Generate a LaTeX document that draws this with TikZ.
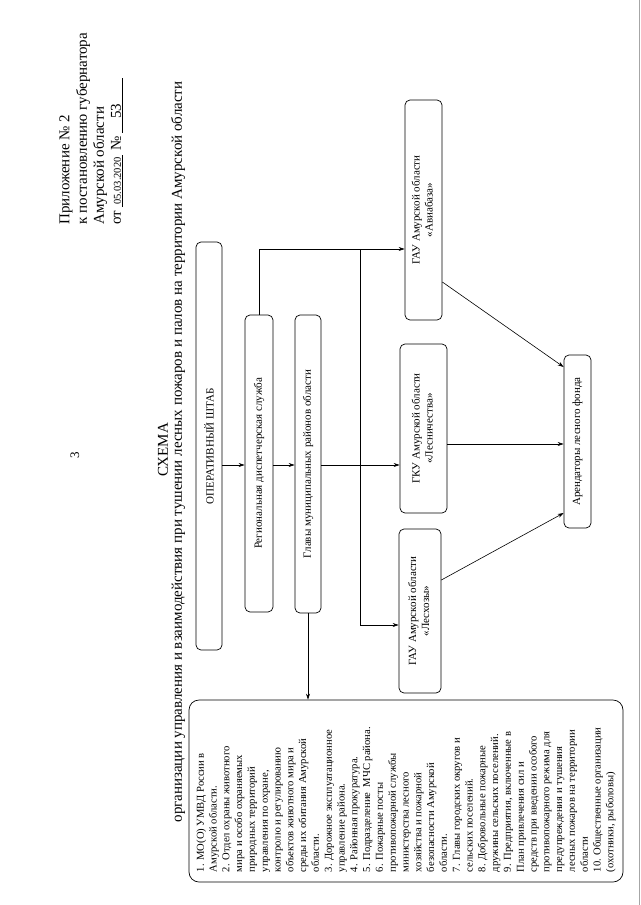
\documentclass[tikz,border=0pt]{standalone}
\usepackage{fontspec}
\setmainfont{Liberation Serif}
\usepackage{graphicx}
\usetikzlibrary{arrows.meta}
\begin{document}
\begin{tikzpicture}[x=1pt,y=-1pt,
  box/.style={draw, rounded corners=5pt, line width=0.7pt, inner sep=0pt},
  blbl/.style={font=\fontsize{11}{13}\selectfont},
  rtxt/.style={rotate=90, inner sep=0pt, anchor=west},
  arr/.style={-{Stealth[length=6pt,width=4pt]}, line width=0.6pt},
  ln/.style={line width=0.6pt}
]
\useasboundingbox[fill=white] (0,0) rectangle (640,905);
% scan edge
\draw[gray!70, line width=1pt] (639,0) -- (639,905);

% page number and header
\node[rotate=90, font=\fontsize{13}{15}\selectfont] (pnum) at (75,455) {3};
\node[rtxt, font=\fontsize{15}{17}\selectfont] (h1) at (66,225) {Приложение № 2};
\node[rtxt, font=\fontsize{15}{17}\selectfont] (h2) at (83,225) {к постановлению губернатора};
\node[rtxt, font=\fontsize{15}{17}\selectfont] (h3) at (100,225) {Амурской области};
\node[rtxt, font=\fontsize{15}{17}\selectfont] (h4) at (117,225) {от \underline{\fontsize{10.5}{12}\selectfont\ 05.03.2020\ }\ № \underline{\hspace{14pt}53\hspace{26pt}}};

% title
\node[rotate=90, font=\fontsize{15}{17}\selectfont] (t1) at (163,450) {СХЕМА};
\node[rotate=90, font=\fontsize{15}{17}\selectfont] (t2) at (178,452) {организации управления и взаимодействия при тушении лесных пожаров и палов на территории Амурской области};

% boxes
\node[box, blbl, minimum width=26, minimum height=408] (osh) at (209,446) {\rotatebox{90}{ОПЕРАТИВНЫЙ ШТАБ}};
\node[box, blbl, minimum width=28, minimum height=297] (rds) at (259,463.5) {\rotatebox{90}{Региональная диспетчерская служба}};
\node[box, blbl, minimum width=26, minimum height=298] (glav) at (308,464) {\rotatebox{90}{Главы муниципальных районов области}};
\node[box, blbl, minimum width=37, minimum height=220] (avia) at (423.5,210) {\rotatebox{90}{\begin{tabular}{@{}c@{}}ГАУ Амурской области\\«Авиабаза»\end{tabular}}};
\node[box, blbl, minimum width=47, minimum height=169] (lesn) at (423.5,428.5) {\rotatebox{90}{\begin{tabular}{@{}c@{}}ГКУ Амурской области\\«Лесничества»\end{tabular}}};
\node[box, blbl, minimum width=42, minimum height=164] (lesh) at (420,611) {\rotatebox{90}{\begin{tabular}{@{}c@{}}ГАУ Амурской области\\«Лесхозы»\end{tabular}}};
\node[box, blbl, minimum width=27, minimum height=173] (arend) at (577.5,441.5) {\rotatebox{90}{Арендаторы лесного фонда}};

\node[box, rounded corners=10pt, minimum width=434, minimum height=182] (big) at (406,791) {\rotatebox{90}{\begin{minipage}{162pt}\fontsize{10.6}{12.8}\selectfont
\begin{tabular}{@{}l@{}}
1. МО(О) УМВД России в\\
Амурской области.\\
2. Отдел охраны животного\\
мира и особо охраняемых\\
природных территорий\\
управления по охране,\\
контролю и регулированию\\
объектов животного мира и\\
среды их обитания Амурской\\
области.\\
3. Дорожное эксплуатационное\\
управление района.\\
4. Районная прокуратура.\\
5. Подразделение\ \ МЧС района.\\
6. Пожарные посты\\
противопожарной службы\\
министерства лесного\\
хозяйства и пожарной\\
безопасности Амурской\\
области.\\
7. Главы городских округов и\\
сельских поселений.\\
8. Добровольные пожарные\\
дружины сельских поселений.\\
9. Предприятия, включенные в\\
План привлечения сил и\\
средств при введении особого\\
противопожарного режима для\\
предупреждения и тушения\\
лесных пожаров на территории\\
области\\
10. Общественные организации\\
(охотники, рыболовы)
\end{tabular}\end{minipage}}};

% helper coordinates
\coordinate (mid) at (0,465);
\coordinate (toprow) at (0,249);
\coordinate (vtop) at (360,249);
\coordinate (vbot) at (360,625);
\coordinate (aviaout) at (0,282);
\coordinate (arin1) at (0,367);
\coordinate (lesnout) at (0,444);
\coordinate (leshout) at (0,580);
\coordinate (arin3) at (0,513);

% connectors
\draw[arr] (osh.east |- mid) -- (rds.west |- mid);
\draw[arr] (rds.east |- mid) -- (glav.west |- mid);
\draw[arr] (glav.east |- mid) -- (lesn.west |- mid);
\draw[arr] (rds.north) |- (avia.west |- toprow);
\draw[ln] (vtop) -- (vbot);
\draw[arr] (vbot) -- (lesh.west |- vbot);
\draw[arr] (glav.south) -- (big.north -| glav.south);
\draw[arr] (avia.east |- aviaout) -- (arend.west |- arin1);
\draw[arr] (lesn.east |- lesnout) -- (arend.west |- lesnout);
\draw[arr] (lesh.east |- leshout) -- (arend.west |- arin3);
\end{tikzpicture}
\end{document}
